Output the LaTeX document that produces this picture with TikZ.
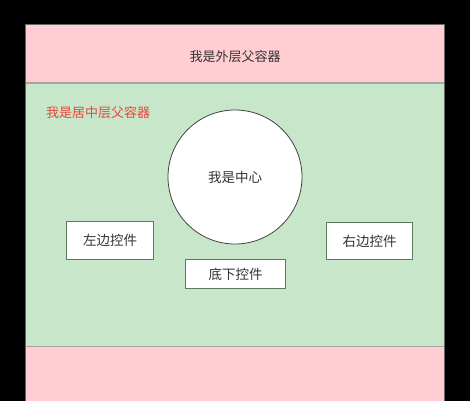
\documentclass[tikz,border=0pt]{standalone}
\usepackage{fontspec}
\setmainfont{Noto Sans CJK SC}
\begin{document}
\begin{tikzpicture}[x=1pt,y=-1pt,
  txt/.style={font=\fontsize{13.5}{15}\selectfont, text=black!80},
  hdr/.style={font=\fontsize{13}{15}\selectfont, text=black!80},
  ctrl/.style={draw=black!55!green!30!gray, line width=1pt, fill=white, txt, anchor=north west, inner sep=0pt},
]
\definecolor{pinkbg}{HTML}{FFCDD2}
\definecolor{greenbg}{HTML}{C8E6C9}
\definecolor{redtxt}{HTML}{E8473A}
\useasboundingbox (0,0) rectangle (470,401);
\fill[black] (0,0) rectangle (470,401);
% outer container
\fill[pinkbg] (25,25) rectangle (444,401);
\draw[black!60, line width=1pt] (25,401) -- (25,25) -- (444,25) -- (444,401);
% middle container
\fill[greenbg] (25.5,83) rectangle (443.5,346.5);
\draw[black!35, line width=1.2pt] (25.5,83) -- (443.5,83);
\draw[black!35, line width=1.2pt] (25.5,346.5) -- (443.5,346.5);
\node[hdr] (outer) at (235,57) {我是外层父容器};
\node[font=\fontsize{13}{15}\selectfont, text=redtxt, anchor=west, inner sep=0pt] (mid) at (46,113) {我是居中层父容器};
% center circle
\node[draw=black!75, line width=0.8pt, fill=white, circle, minimum size=134pt, inner sep=0pt, txt] (center) at (235,177) {我是中心};
% controls
\node[ctrl, minimum width=87pt, minimum height=38pt] (left) at (66,221) {左边控件};
\node[ctrl, minimum width=86pt, minimum height=37pt] (right) at (326,222) {右边控件};
\node[ctrl, minimum width=100pt, minimum height=29pt] (bottom) at (185,259) {底下控件};
\end{tikzpicture}
\end{document}
